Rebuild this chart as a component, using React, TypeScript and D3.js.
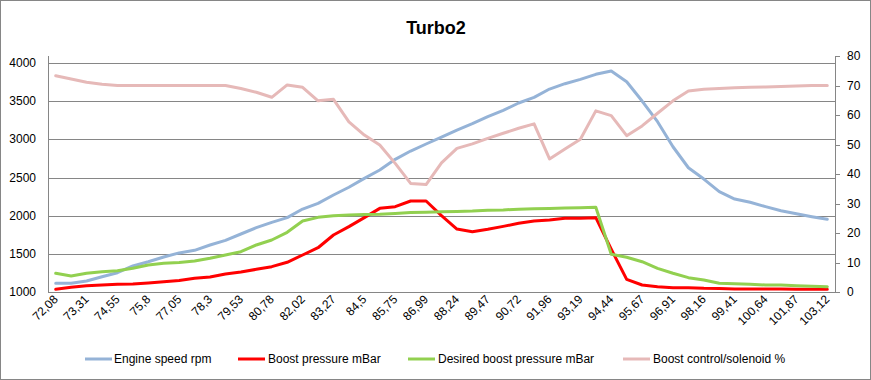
import React from "react";
import * as d3 from "d3";

const categories: string[] = [
  "72,08","72,7","73,31","73,93","74,55","75,17","75,8","76,42","77,05","77,67",
  "78,3","78,91","79,53","80,16","80,78","81,4","82,02","82,65","83,27","83,88",
  "84,5","85,13","85,75","86,37","86,99","87,62","88,24","88,85","89,47","90,1",
  "90,72","91,34","91,96","92,58","93,19","93,82","94,44","95,05","95,67","96,29",
  "96,91","97,54","98,16","98,78","99,41","100,02","100,64","101,26","101,87","102,5",
  "103,12",
];

const engineSpeed: number[] = [
  1114,1114,1144,1200,1253,1341,1397,1458,1512,1546,
  1616,1677,1760,1843,1913,1974,2087,2162,2271,2372,
  2489,2598,2738,2847,2939,3030,3122,3205,3297,3380,
  3476,3550,3659,3729,3786,3852,3895,3755,3502,3231,
  2903,2628,2480,2314,2218,2175,2118,2065,2026,1987,
  1952,
];

const boostPressure: number[] = [
  1035,1062,1083,1092,1101,1105,1118,1135,1150,1179,
  1196,1236,1262,1297,1332,1389,1485,1580,1747,1856,
  1974,2096,2118,2192,2192,2000,1825,1790,1821,1860,
  1900,1930,1943,1965,1965,1974,1560,1166,1092,1070,
  1057,1057,1048,1045,1040,1040,1040,1038,1035,1035,
  1035,
];

const desiredBoost: number[] = [
  1245,1210,1245,1266,1279,1310,1354,1376,1387,1406,
  1441,1485,1528,1616,1681,1782,1930,1978,2000,2010,
  2015,2020,2030,2040,2045,2050,2055,2060,2070,2075,
  2085,2090,2095,2100,2105,2110,1494,1455,1397,1310,
  1245,1188,1157,1114,1109,1100,1092,1092,1083,1075,
  1070,
];

const solenoid: number[] = [
  73.3,72.2,71.1,70.4,70.0,70.0,70.0,70.0,70.0,70.0,
  70.0,70.0,69.0,67.7,66.0,70.2,69.4,64.8,65.3,57.7,
  53.2,49.8,43.6,36.8,36.4,43.8,48.7,50.2,52.1,53.8,
  55.5,57.0,45.1,48.5,51.8,61.4,59.8,53.0,56.3,60.6,
  64.8,68.1,68.7,69.0,69.2,69.4,69.5,69.7,69.8,70.0,
  70.0,
];

const leftTicks: number[] = [1000, 1500, 2000, 2500, 3000, 3500, 4000];
const rightTicks: number[] = [0, 10, 20, 30, 40, 50, 60, 70, 80];

const seriesNames: string[] = [
  "Engine speed rpm",
  "Boost pressure mBar",
  "Desired boost pressure mBar",
  "Boost control/solenoid %",
];

const W = 871;
const H = 380;
const plot = { left: 48, right: 835, top: 56, bottom: 292 };
const colors = ["#95B3D7", "#FF0000", "#92D050", "#E6B9B8"];
const font = "'Liberation Sans', Arial, sans-serif";

export default function App() {
  const x = d3
    .scaleBand<number>()
    .domain(categories.map((_, i) => i))
    .range([plot.left, plot.right]);
  const xc = (i: number) => (x(i) as number) + x.bandwidth() / 2;
  const yL = d3.scaleLinear().domain([1000, 4092]).range([plot.bottom, plot.top]);
  const yR = d3.scaleLinear().domain([0, 80]).range([plot.bottom, plot.top]);

  const lineL = d3
    .line<number>()
    .x((_, i) => xc(i))
    .y((d) => yL(d));
  const lineR = d3
    .line<number>()
    .x((_, i) => xc(i))
    .y((d) => yR(d));

  const paths = [
    { d: lineL(engineSpeed), c: colors[0] },
    { d: lineL(boostPressure), c: colors[1] },
    { d: lineL(desiredBoost), c: colors[2] },
    { d: lineR(solenoid), c: colors[3] },
  ];

  const legendItems = [
    { x: 85, tx: 114 },
    { x: 238, tx: 268 },
    { x: 408, tx: 438 },
    { x: 623, tx: 653 },
  ];
  const legendY = 359;

  return (
    <svg
      width={W}
      height={H}
      style={{ position: "absolute", left: 0, top: 0, display: "block" }}
      fontFamily={font}
    >
      <rect x={0.5} y={0.5} width={W - 1} height={H - 1} fill="#fff" stroke="#868686" />
      <text
        x={436}
        y={34}
        textAnchor="middle"
        fontSize={18}
        fontWeight="bold"
        fill="#000"
      >
        Turbo2
      </text>

      {leftTicks.slice(1).map((t) => (
        <line
          key={"g" + t}
          x1={plot.left}
          x2={plot.right}
          y1={Math.round(yL(t)) + 0.5}
          y2={Math.round(yL(t)) + 0.5}
          stroke="#868686"
          strokeWidth={1}
        />
      ))}

      <line x1={plot.left + 0.5} x2={plot.left + 0.5} y1={plot.top} y2={plot.bottom} stroke="#868686" />
      <line x1={plot.right + 0.5} x2={plot.right + 0.5} y1={plot.top} y2={plot.bottom} stroke="#868686" />
      <line x1={plot.left} x2={plot.right} y1={plot.bottom + 0.5} y2={plot.bottom + 0.5} stroke="#868686" />

      {leftTicks.map((t) => (
        <text key={"l" + t} x={36} y={yL(t) + 4} textAnchor="end" fontSize={12} fill="#000">
          {t}
        </text>
      ))}

      {rightTicks.map((t) => (
        <g key={"r" + t}>
          <line
            x1={plot.right}
            x2={plot.right + 5}
            y1={Math.round(yR(t)) + 0.5}
            y2={Math.round(yR(t)) + 0.5}
            stroke="#868686"
          />
          <text x={847} y={yR(t) + 4} textAnchor="start" fontSize={12} fill="#000">
            {t}
          </text>
        </g>
      ))}

      {categories.map((c, i) =>
        i % 2 === 0 ? (
          <text
            key={"x" + i}
            transform={`translate(${xc(i) + 3},${plot.bottom + 8}) rotate(-45)`}
            textAnchor="end"
            fontSize={12}
            fill="#000"
          >
            {c}
          </text>
        ) : null
      )}

      {paths.map((p, i) => (
        <path
          key={"p" + i}
          d={p.d || ""}
          fill="none"
          stroke={p.c}
          strokeWidth={3}
          strokeLinejoin="round"
          strokeLinecap="round"
        />
      ))}

      {seriesNames.map((n, i) => (
        <g key={"lg" + i}>
          <line
            x1={legendItems[i].x}
            x2={legendItems[i].x + 27}
            y1={legendY}
            y2={legendY}
            stroke={colors[i]}
            strokeWidth={3}
          />
          <text x={legendItems[i].tx} y={legendY + 4} fontSize={12} fill="#000">
            {n}
          </text>
        </g>
      ))}
    </svg>
  );
}
